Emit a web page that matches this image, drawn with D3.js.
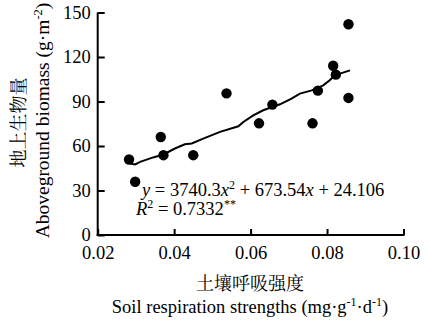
<!DOCTYPE html>
<html><head><meta charset="utf-8">
<script src="https://cdn.jsdelivr.net/npm/d3@7"></script>
<style>
body{margin:0;background:#fff;}
svg{display:block;}
</style></head>
<body>
<script>
// Data
const respiration = [0.0282,0.0298,0.0365,0.0372,0.0450,0.0537,0.0622,0.0657,0.0762,0.0776,0.0816,0.0823,0.0856,0.0856];
const biomass     = [50.9,35.9,66.1,53.8,53.8,95.5,75.3,87.9,75.3,97.3,114.1,108.1,142.1,92.4];
const fitX = [0.0285,0.0298,0.0311,0.0345,0.0372,0.0402,0.0428,0.0446,0.0476,0.0520,0.0568,0.0581,0.0607,0.0633,0.0677,0.0707,0.0729,0.0760,0.0790,0.0807,0.0820,0.0860];
const fitY = [48.2,47.6,49.3,52.3,54.3,58.3,61.2,61.7,65.0,69.5,73.3,76.2,80.7,84.1,88.1,91.9,95.3,97.5,100.9,104.3,107.6,111.0];
const xTicks = [0.02,0.04,0.06,0.08,0.10];
const yTicks = [0,30,60,90,120,150];

const SERIF="'Liberation Serif','Times New Roman',serif";
const CJK="'Noto Serif CJK SC','Noto Sans CJK SC',serif";
const W=430,H=322;
const svg=d3.select("body").append("svg").attr("width",W).attr("height",H);
const x=d3.scaleLinear().domain([0.02,0.10]).range([97.7,403.5]);
const y=d3.scaleLinear().domain([0,150]).range([235,12.5]);

const xa=svg.append("g").attr("transform","translate(0,235)")
  .call(d3.axisBottom(x).tickValues(xTicks).tickFormat(d3.format(".2f")).tickSizeInner(-6).tickSizeOuter(0).tickPadding(11));
const ya=svg.append("g").attr("transform","translate(97.7,0)")
  .call(d3.axisLeft(y).tickValues(yTicks).tickFormat(d3.format("d")).tickSizeInner(-7).tickSizeOuter(0).tickPadding(7));
[xa,ya].forEach(g=>{
  g.attr("font-family",SERIF).attr("font-size",18.5);
  g.selectAll("path,line").attr("stroke","#000").attr("stroke-width",2);
  g.selectAll("text").attr("fill","#000");
});
ya.select("path.domain").attr("d","M0,236V12.5");
xa.select("path.domain").attr("d","M96.7,0H404.5");

// fit line
svg.append("path")
  .datum(fitX.map((d,i)=>[d,fitY[i]]))
  .attr("fill","none").attr("stroke","#000").attr("stroke-width",2)
  .attr("d",d3.line().x(d=>x(d[0])).y(d=>y(d[1])));

// points
svg.append("g").selectAll("circle").data(respiration.map((d,i)=>[d,biomass[i]])).join("circle")
  .attr("cx",d=>x(d[0])).attr("cy",d=>y(d[1])).attr("r",5.2).attr("fill","#000");

function txt(attrs){const t=svg.append("text").attr("font-family",SERIF).attr("font-size",18.5).attr("fill","#000");for(const k in attrs)t.attr(k,attrs[k]);return t;}

// equation
const eq=txt({x:142,y:196});
eq.append("tspan").attr("font-style","italic").text("y");
eq.append("tspan").text(" = 3740.3");
eq.append("tspan").attr("font-style","italic").text("x");
eq.append("tspan").attr("dy",-7).attr("font-size",12).text("2");
eq.append("tspan").attr("dy",7).text(" + 673.54");
eq.append("tspan").attr("font-style","italic").text("x");
eq.append("tspan").text(" + 24.106");

const r2=txt({x:136,y:215});
r2.append("tspan").attr("font-style","italic").text("R");
r2.append("tspan").attr("dy",-7).attr("font-size",12).text("2");
r2.append("tspan").attr("dy",7).text(" = 0.7332");
r2.append("tspan").attr("dy",-7).attr("font-size",12).text("**");

// x labels
txt({x:250,y:290,"text-anchor":"middle","font-family":CJK,"font-size":18}).text("土壤呼吸强度");
const xl=txt({x:250,y:313,"text-anchor":"middle"});
xl.append("tspan").text("Soil respiration strengths (mg·g");
xl.append("tspan").attr("dy",-7).attr("font-size",12).text("-1");
xl.append("tspan").attr("dy",7).text("·d");
xl.append("tspan").attr("dy",-7).attr("font-size",12).text("-1");
xl.append("tspan").attr("dy",7).text(")");

// y labels
txt({transform:"translate(25,122.5) rotate(-90)","text-anchor":"middle","font-family":CJK,"font-size":18}).text("地上生物量");
const yl=txt({transform:"translate(48.5,120.5) rotate(-90)","text-anchor":"middle","font-size":19.5});
yl.append("tspan").text("Aboveground biomass (g·m");
yl.append("tspan").attr("dy",-7).attr("font-size",12.5).text("-2");
yl.append("tspan").attr("dy",7).text(")");
</script>
</body></html>
